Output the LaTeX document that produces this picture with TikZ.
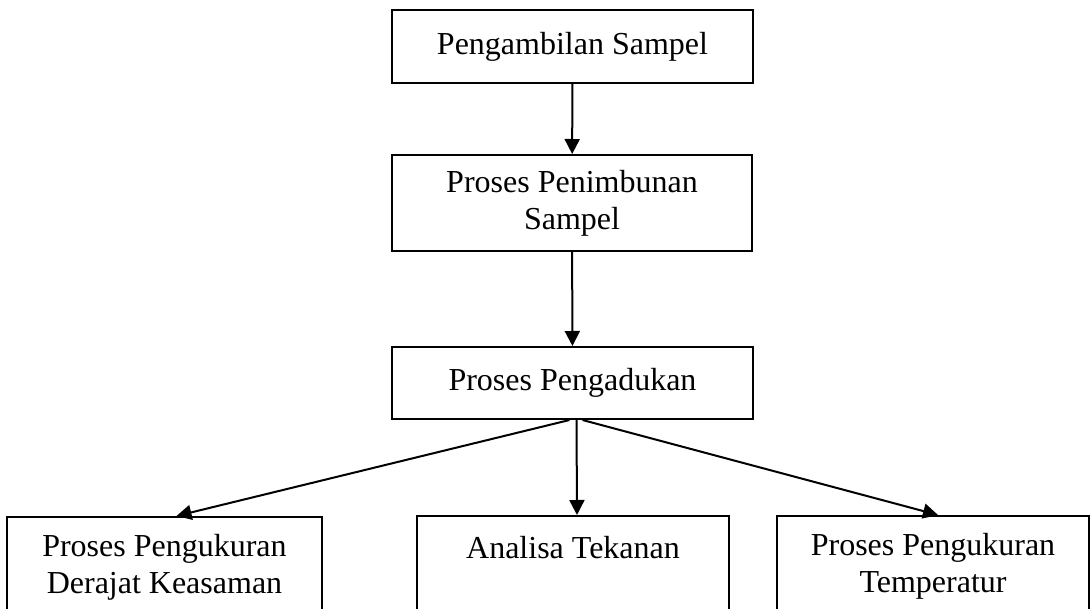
\documentclass[tikz,border=0pt]{standalone}
\usepackage{fontspec}
\setmainfont{Liberation Serif}
\usetikzlibrary{arrows.meta}

\begin{document}
\begin{tikzpicture}[x=0.5pt,y=-0.5pt]

\tikzset{
  StepBox/.style = { rectangle, draw, line width = 1pt, inner sep = 0pt,
                     align = center, font = \fontsize{16}{18.5}\selectfont },
  FlowArrow/.style = { line width = 1pt,
                       -{Triangle[length=7.5pt,width=7.5pt]} } }

  \useasboundingbox (0,0) rectangle (1091,609);
  \clip (0,0) rectangle (1091,609);

  \node[StepBox, minimum width=180.5pt, minimum height=36.5pt] (ambil) at (572.5, 46.5) {Pengambilan Sampel};
  \node[StepBox, minimum width=180pt, minimum height=48pt] (timbun) at (572, 203) {Proses Penimbunan\\Sampel};
  \node[StepBox, minimum width=180.5pt, minimum height=36pt] (aduk) at (572.5, 383) {Proses Pengadukan};

  \node[StepBox, anchor=north, minimum width=157.5pt, minimum height=50pt] (asam) at (164.5, 516) {Proses Pengukuran\\Derajat Keasaman};
  \node[StepBox, anchor=north, minimum width=156pt, minimum height=50pt] (tekan) at (573, 515) {Analisa Tekanan\\~};
  \node[StepBox, anchor=north, minimum width=156pt, minimum height=50pt] (suhu) at (933, 515) {Proses Pengukuran\\Temperatur};

  \draw[FlowArrow] (ambil) -- (timbun);
  \draw[FlowArrow] (timbun) -- (aduk);

  \draw[FlowArrow] ([xshift=-1.5pt]aduk.south) -- ([xshift=6pt]asam.north);
  \draw[FlowArrow] ([xshift=2pt]aduk.south) -- ([xshift=2pt]tekan.north);
  \draw[FlowArrow] ([xshift=5pt]aduk.south) -- ([xshift=2.5pt]suhu.north);

\end{tikzpicture}
\end{document}
